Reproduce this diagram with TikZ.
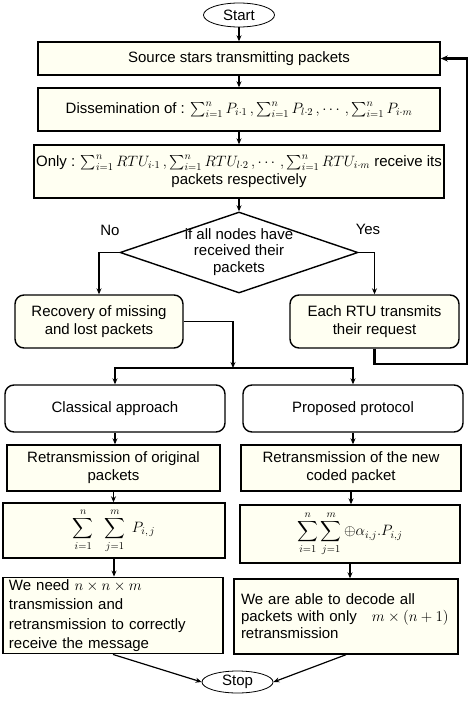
\documentclass[tikz,border=0pt]{standalone}
\usepackage{fix-cm}
\usepackage{amsmath}
\usepackage{fontspec}
\setmainfont{Liberation Sans}
\usetikzlibrary{shapes.geometric,arrows.meta}
\definecolor{cream}{HTML}{FFFFF2}
\tikzset{
    box/.style={draw, line width=1.4pt, fill=cream, inner sep=2pt, align=center},
    rbox/.style={box, rounded corners=9pt},
    term/.style={draw, ellipse, line width=0.8pt, inner sep=0pt, fill=white},
    arr/.style={line width=1.2pt, -{Stealth[length=6pt,width=5pt]}},
    fb/.style={line width=2.4pt, -{Stealth[length=7pt,width=6pt]}},
}
\begin{document}
\begin{tikzpicture}[x=1pt, y=-1pt, every node/.style={font=\fontsize{15}{18}\selectfont}]
        \useasboundingbox (0,0) rectangle (474,701);

        \node[term, minimum width=71, minimum height=24] (start) at (239, 15) {Start};
        \node[box, minimum width=402, minimum height=33] (src) at (239, 58.5) {Source stars transmitting packets};
        \node[box, minimum width=402, minimum height=43] (diss) at (239, 109.5)
            {Dissemination of : $\sum_{i=1}^{n} P_{i\cdot 1}\,,\sum_{i=1}^{n} P_{l\cdot 2}\,,\cdots,\sum_{i=1}^{n} P_{i\cdot m}$};
        \node[box, minimum width=402, minimum height=53] (only) at (239, 171.5)
            {Only : $\sum_{i=1}^{n} RTU_{i\cdot 1}\,,\sum_{i=1}^{n} RTU_{l\cdot 2}\,,\cdots,\sum_{i=1}^{n} RTU_{i\cdot m}$ receive its\\packets respectively};
        \node[draw, diamond, aspect=2.94, inner sep=-6pt, minimum width=238, minimum height=81,
            line width=1.4pt, fill=white, align=center, font=\fontsize{15}{17.5}\selectfont] (cond) at (239, 252.5)
            {\raisebox{-2pt}{if all nodes have}\\received their\\packets};
        \node (no) at (110, 230) {No};
        \node (yes) at (368, 229) {Yes};

        \node[rbox, minimum width=168, minimum height=53] (rec) at (99, 321.5) {Recovery of missing\\and lost packets};
        \node[rbox, minimum width=169, minimum height=53] (rtu) at (374.5, 321.5) {Each RTU transmits\\their request};

        \node[rbox, fill=white, minimum width=220, minimum height=47] (classic) at (115, 408.5) {Classical approach};
        \node[rbox, fill=white, minimum width=220, minimum height=47] (proto) at (353, 408.5) {Proposed protocol};

        \node[box, minimum width=213, minimum height=46] (reorig) at (113.5, 468) {Retransmission of original\\packets};
        \node[box, minimum width=220, minimum height=46] (recoded) at (351, 468) {Retransmission of the new\\coded packet};

        \node[box, minimum width=222, minimum height=55] (sumL) at (114, 530.5)
            {$\displaystyle\sum_{i=1}^{n}\;\;\sum_{j=1}^{m}\;P_{i,\,j}$};
        \node[box, minimum width=220, minimum height=58] (sumR) at (350, 534)
            {$\displaystyle\sum_{i=1}^{n}\sum_{j=1}^{m}\oplus\alpha_{i,j}.P_{i,j}$};

        \node[box, align=left, text width=208, inner xsep=6, minimum height=75,
            font=\fontsize{15}{19.5}\selectfont] (needL) at (113, 615.5)
            {We need $n\times n\times m$\\transmission and\\retransmission to correctly\\receive the message};
        \node[box, align=left, text width=210, inner xsep=7, minimum height=75,
            font=\fontsize{15}{17}\selectfont] (ableR) at (346, 616.5)
            {We are able to decode all\\packets with only\quad $m\times(n+1)$\\retransmission};

        \node[term, minimum width=71, minimum height=22] (stop) at (237.5, 682) {Stop};

        \coordinate (fbturn) at (467, 364);
        \coordinate (split) at (233, 368);

        \draw[arr] (start) -- (src);
        \draw[arr] (src) -- (diss);
        \draw[arr] (diss) -- (only);
        \draw[arr] (only) -- (cond);
        \draw[arr] (cond.west) -| (rec.north);
        \draw[arr] (cond.east) -| (rtu.north);
        \draw[fb] (rtu.south) |- (fbturn) |- (src.east);

        \draw[arr] (rec.east) -| (split);
        \draw[arr] (split) -| (classic.north);
        \draw[arr] (split) -| (proto.north);

        \draw[arr] (classic.south) -- (classic.south |- reorig.north);
        \draw[arr] (proto.south) -- (proto.south |- recoded.north);
        \draw[arr] (reorig.south) -- (reorig.south |- sumL.north);
        \draw[arr] (recoded.south) -- (recoded.south |- sumR.north);
        \draw[arr] (sumL.south) -- (sumL.south |- needL.north);
        \draw[arr] (sumR.south) -- (sumR.south |- ableR.north);

        \draw[arr] (needL.south) -- (stop.west);
        \draw[arr] (ableR.south) -- (stop.east);
\end{tikzpicture}
\end{document}
